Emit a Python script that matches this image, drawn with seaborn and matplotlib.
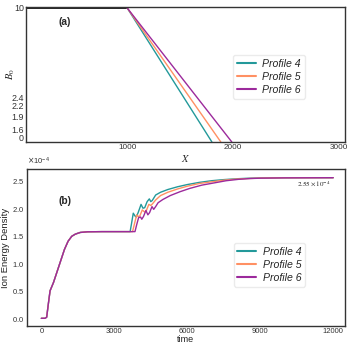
import numpy as np
import pandas as pd
import matplotlib
matplotlib.use("Agg")
import matplotlib.pyplot as plt
import seaborn as sns

sns.set_style("white")
plt.rcParams['font.family'] = ['Liberation Sans', 'DejaVu Sans']

profiles = ["Profile 4", "Profile 5", "Profile 6"]
colors = ["#23999a", "#ff9063", "#9c2a9c"]

# ---- panel (a) data ----
flat_x = [0, 1000]
flat_b = [10, 10]
ramp_end_x = [1800, 1884, 1988]   # where each profile reaches the bottom of the axis
ramp_start = (1000, 10)
ramp_bottom = -0.31
a_ytick_pos = [-0.0, 0.615, 1.62, 2.46, 3.10, 10]
a_ytick_lab = ["0", "1.6", "1.9", "2.2", "2.4", "10"]
a_xticks = [1000, 2000, 3000]

# ---- panel (b) data (units of 1e-4) ----
common_t = [0, 150, 220, 300, 360, 500, 650, 800, 950, 1100, 1250, 1400, 1600, 1900, 2500]
common_y = [0, 0, 0.02, 0.30, 0.50, 0.65, 0.85, 1.05, 1.25, 1.40, 1.49, 1.53, 1.56, 1.572, 1.575]

p4_t = [3650, 3700, 3780, 3850, 3900, 3980, 4100, 4180, 4250, 4350, 4440, 4500, 4560, 4700,
        4900, 5200, 5600, 6000, 6500, 7000, 7500, 8000, 8500, 9000, 10000, 11000, 12000]
p4_y = [1.575, 1.70, 1.91, 1.86, 1.84, 1.92, 2.07, 2.00, 2.01, 2.12, 2.17, 2.12, 2.14, 2.24,
        2.29, 2.34, 2.39, 2.43, 2.47, 2.50, 2.52, 2.535, 2.545, 2.55, 2.553, 2.555, 2.555]

p5_t = [3750, 3820, 3920, 3980, 4050, 4150, 4250, 4320, 4420, 4500, 4570, 4700, 4900,
        5200, 5600, 6000, 6500, 7000, 7500, 8000, 8500, 9000, 10000, 12000]
p5_y = [1.575, 1.70, 1.88, 1.85, 1.86, 1.97, 1.93, 1.96, 2.07, 2.05, 2.08, 2.15, 2.23,
        2.29, 2.35, 2.40, 2.45, 2.48, 2.51, 2.53, 2.54, 2.548, 2.553, 2.555]

p6_t = [3850, 3920, 4000, 4080, 4130, 4200, 4300, 4380, 4450, 4550, 4620, 4700, 4800, 5000,
        5300, 5700, 6100, 6600, 7100, 7600, 8100, 8600, 9000, 10000, 12000]
p6_y = [1.575, 1.70, 1.83, 1.84, 1.80, 1.85, 1.96, 1.88, 1.92, 2.03, 1.98, 2.03, 2.10, 2.16,
        2.23, 2.30, 2.36, 2.42, 2.46, 2.50, 2.525, 2.54, 2.546, 2.552, 2.555]

fig = plt.figure(figsize=(3.47, 3.47), dpi=100)
ax1 = fig.add_axes([0.075, 0.591, 0.919, 0.389])
ax2 = fig.add_axes([0.077, 0.0605, 0.917, 0.452])

spine_c = "#333333"
tick_c = "#333333"

leg_kw = dict(prop={"style": "italic", "size": 7.6}, frameon=True, handlelength=1.8,
              borderpad=0.35, labelspacing=0.3, handletextpad=0.6, borderaxespad=0)

# ----- panel (a) -----
rows = []
for p, xe in zip(profiles, ramp_end_x):
    rows.append((p, ramp_start[0], ramp_start[1]))
    rows.append((p, xe, ramp_bottom))
dfa = pd.DataFrame(rows, columns=["Profile", "X", "B0"])
ax1.plot(flat_x, flat_b, color="black", lw=1.2)
sns.lineplot(data=dfa, x="X", y="B0", hue="Profile", palette=colors, ax=ax1,
             estimator=None, sort=False, lw=1.0)
ax1.set_xlim(44, 3057)
ax1.set_ylim(-0.31, 10.08)
ax1.set_yticks(a_ytick_pos)
ax1.set_yticklabels(a_ytick_lab)
ax1.set_xticks(a_xticks)
ax1.tick_params(labelsize=5.9, colors=tick_c, pad=1.5, length=0)
ax1.tick_params(axis="y", labelsize=6.4)
ax1.set_xlabel("$X$", fontsize=7.5, math_fontfamily="stix")
ax1.xaxis.set_label_coords(0.5, -0.08)
ax1.set_ylabel("$B_0$", fontsize=7.5, math_fontfamily="stix")
ax1.yaxis.set_label_coords(-0.028, 0.5)
ax1.text(0.12, 0.89, "(a)", transform=ax1.transAxes, fontsize=7.3, fontweight="bold",
         ha="center", va="center")
leg1 = ax1.legend(loc="upper left", bbox_to_anchor=(0.65, 0.645), **leg_kw)
leg1.get_frame().set_edgecolor("#e6e6e6")
for l in leg1.get_lines():
    l.set_linewidth(1.5)

# ----- panel (b) -----
rows = []
for p, tt, yy in zip(profiles, [p4_t, p5_t, p6_t], [p4_y, p5_y, p6_y]):
    for t, y in zip(common_t + tt, common_y + yy):
        rows.append((p, t, y * 1e-4))
dfb = pd.DataFrame(rows, columns=["Profile", "time", "E"])
sns.lineplot(data=dfb, x="time", y="E", hue="Profile", palette=colors, ax=ax2,
             estimator=None, sort=False, lw=1.0)
ax2.set_xlim(-600, 12480)
ax2.set_ylim(-0.14e-4, 2.71e-4)
ax2.set_xticks([0, 3000, 6000, 9000, 12000])
ax2.set_yticks([0, 0.5e-4, 1.0e-4, 1.5e-4, 2.0e-4, 2.5e-4])
ax2.ticklabel_format(axis="y", style="sci", scilimits=(-4, -4), useMathText=True)
ax2.yaxis.get_offset_text().set_fontsize(5.5)
ax2.yaxis.get_offset_text().set_color(tick_c)
ax2.tick_params(labelsize=5.5, colors=tick_c, pad=1.5, length=0)
ax2.set_xlabel("time", fontsize=6.5, labelpad=0, color="#222222")
ax2.set_ylabel("Ion Energy Density", fontsize=6.8, labelpad=2, color="#222222")
ax2.text(0.12, 0.795, "(b)", transform=ax2.transAxes, fontsize=7.3, fontweight="bold",
         ha="center", va="center")
ax2.text(11900, 2.44e-4, r"$2.55\times10^{-4}$", fontsize=5, ha="right", va="center",
         math_fontfamily="stix", color="#222222")
leg2 = ax2.legend(loc="upper left", bbox_to_anchor=(0.65, 0.53), **leg_kw)
leg2.get_frame().set_edgecolor("#e6e6e6")
for l in leg2.get_lines():
    l.set_linewidth(1.5)

for ax in (ax1, ax2):
    for s in ax.spines.values():
        s.set_color(spine_c)
        s.set_linewidth(1.0)

fig.savefig("out.png", dpi=100)
